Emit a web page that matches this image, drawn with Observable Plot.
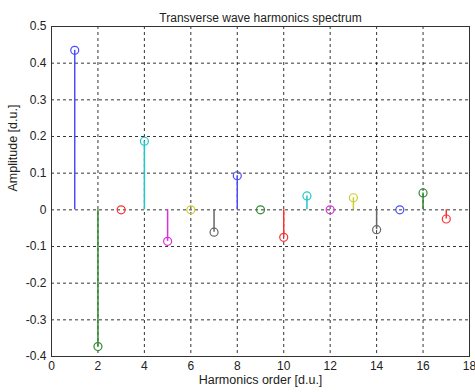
<!DOCTYPE html>
<html>
<head>
<meta charset="utf-8">
<script src="https://cdn.jsdelivr.net/npm/d3@7"></script>
<script src="https://cdn.jsdelivr.net/npm/@observablehq/plot@0.6"></script>
<style>
  html, body { margin: 0; padding: 0; background: #fff; }
  #chart svg { display: block; }
</style>
</head>
<body>
<div id="chart"></div>
<script>
const orders = [1, 2, 3, 4, 5, 6, 7, 8, 9, 10, 11, 12, 13, 14, 15, 16, 17];
const amplitudes = [0.435, -0.373, 0.0, 0.187, -0.086, 0.0, -0.061, 0.093, 0.0, -0.075, 0.038, 0.0, 0.033, -0.054, 0.0, 0.046, -0.025];
const colorCycle = ["#4a4aff", "#2e8b2e", "#ff3030", "#20c8c8", "#dd30dd", "#cccc30", "#666666"];
const xTicks = [0, 2, 4, 6, 8, 10, 12, 14, 16, 18];
const yTicks = [-0.4, -0.3, -0.2, -0.1, 0, 0.1, 0.2, 0.3, 0.4, 0.5];
const titleText = "Transverse wave harmonics spectrum";
const xLabel = "Harmonics order [d.u.]";
const yLabel = "Amplitude [d.u.]";

const data = orders.map((o, i) => ({order: o, amp: amplitudes[i], color: colorCycle[i % colorCycle.length]}));
const fmtY = d => d === 0 ? "0" : d.toFixed(1).replace("−", "-");

const chart = Plot.plot({
  width: 475,
  height: 392,
  marginLeft: 51,
  marginRight: 6,
  marginTop: 26,
  marginBottom: 36,
  style: {fontFamily: "'Liberation Sans', Arial, sans-serif", fontSize: "12px", color: "#222", background: "#fff"},
  x: {domain: [0, 18], ticks: xTicks, tickFormat: d => String(d), tickSize: 0, tickPadding: 5, label: null},
  y: {domain: [-0.4, 0.5], ticks: yTicks, tickFormat: fmtY, tickSize: 0, tickPadding: 5, label: null},
  marks: [
    Plot.ruleX(xTicks.slice(1, -1), {stroke: "#000", strokeWidth: 0.8, strokeDasharray: "3,3"}),
    Plot.ruleY(yTicks.slice(1, -1), {stroke: "#000", strokeWidth: 0.8, strokeDasharray: "3,3"}),
    Plot.frame({stroke: "#333", strokeWidth: 1}),
    Plot.ruleX(data, {x: "order", y1: 0, y2: "amp", stroke: "color", strokeWidth: 1.5}),
    Plot.dot(data, {x: "order", y: "amp", r: 4, stroke: "color", fill: "white", fillOpacity: 0, strokeWidth: 1.2}),
    Plot.axisX({ticks: xTicks, tickFormat: d => String(d), tickSize: 0, tickPadding: 5, label: null, fontSize: 12}),
    Plot.axisY({ticks: yTicks, tickFormat: fmtY, tickSize: 0, tickPadding: 5, label: null, fontSize: 12}),
    Plot.text([titleText], {frameAnchor: "top", dy: -13, fontSize: 12, fill: "#222"}),
    Plot.text([xLabel], {frameAnchor: "bottom", dy: 27, fontSize: 12.5, fill: "#222"}),
    Plot.text([yLabel], {frameAnchor: "left", dx: -39, rotate: -90, fontSize: 12.5, fill: "#222"})
  ]
});
document.getElementById("chart").appendChild(chart);
</script>
</body>
</html>
